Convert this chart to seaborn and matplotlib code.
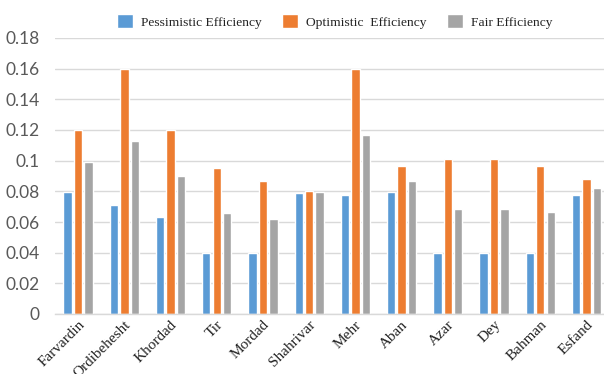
import matplotlib
matplotlib.use("Agg")
import matplotlib.pyplot as plt
import seaborn as sns
import pandas as pd
from matplotlib.ticker import FuncFormatter, MultipleLocator

months = ["Farvardin", "Ordibehesht", "Khordad", "Tir", "Mordad", "Shahrivar",
          "Mehr", "Aban", "Azar", "Dey", "Bahman", "Esfand"]
pessimistic = [0.0795, 0.0712, 0.0635, 0.040, 0.040, 0.079, 0.0775, 0.0795, 0.040, 0.040, 0.040, 0.0775]
optimistic = [0.120, 0.160, 0.120, 0.0955, 0.087, 0.080, 0.160, 0.0965, 0.101, 0.101, 0.0965, 0.088]
fair = [0.099, 0.113, 0.090, 0.066, 0.062, 0.0795, 0.1165, 0.087, 0.0685, 0.0685, 0.0665, 0.082]
series = ["Pessimistic Efficiency", "Optimistic  Efficiency", "Fair Efficiency"]
colors = ["#5B9BD5", "#ED7D31", "#A5A5A5"]

rows = []
for name, vals in zip(series, [pessimistic, optimistic, fair]):
    for m, v in zip(months, vals):
        rows.append({"month": m, "series": name, "value": v})
df = pd.DataFrame(rows)

sns.set_theme(style="white")
fig = plt.figure(figsize=(6.04, 3.74), dpi=100)
ax = fig.add_axes([55/604, 1 - 314/374, 1 - 55/604, (314 - 38)/374])
sns.barplot(data=df, x="month", y="value", hue="series", order=months,
            hue_order=series, palette=colors, width=0.68, gap=0.2,
            saturation=1, ax=ax, legend=True)

ax.set_ylim(0, 0.18)
ax.set_xlim(-0.5, 11.38)
ax.yaxis.set_major_locator(MultipleLocator(0.02))
ax.yaxis.set_major_formatter(FuncFormatter(lambda v, p: "0" if abs(v) < 1e-9 else ("%.2f" % v).rstrip("0")))
ax.grid(axis="y", color="#D9D9D9", linewidth=1)
ax.set_axisbelow(True)
for s in ["top", "right", "left"]:
    ax.spines[s].set_visible(False)
ax.spines["bottom"].set_color("#D9D9D9")
ax.spines["bottom"].set_linewidth(1)
ax.set_xlabel("")
ax.set_ylabel("")
ax.tick_params(axis="y", length=0, pad=11, labelsize=12.5, labelcolor="#595959")
ax.tick_params(axis="x", length=0, pad=3)
for lab in ax.get_yticklabels():
    lab.set_family("Lato")
ax.set_xticks(range(len(months)))
ax.set_xticklabels(months, rotation=45, ha="right", rotation_mode="anchor",
                   family="Liberation Serif", fontsize=11, color="#222222")

leg = ax.legend(loc="upper center", bbox_to_anchor=(0.5 + 0.01, 1 + 36/276), ncol=3,
                frameon=False, prop={"family": "Liberation Serif", "size": 9.7},
                handlelength=1.2, handleheight=1.2, columnspacing=1.5, handletextpad=0.6)
for t in leg.get_texts():
    t.set_color("#222222")

fig.savefig("out.png", dpi=100)
